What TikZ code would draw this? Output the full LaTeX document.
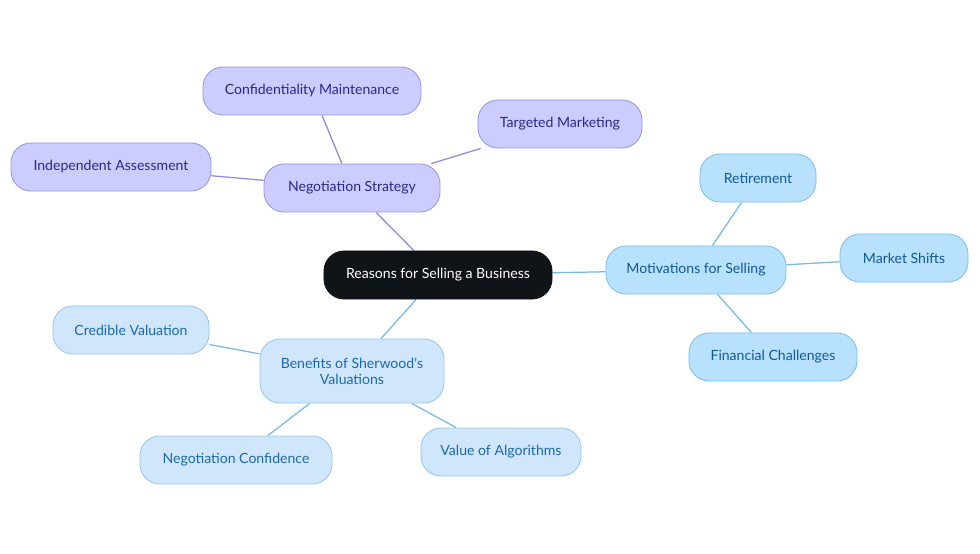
\documentclass[tikz,border=0pt]{standalone}
\usepackage{fontspec}
\setmainfont{Lato}
\usepackage{tikz}
\usetikzlibrary{positioning,backgrounds}
\definecolor{centerfill}{RGB}{15,20,25}
\definecolor{negfill}{RGB}{204,204,255}
\definecolor{negdraw}{RGB}{150,150,230}
\definecolor{negtext}{RGB}{40,40,140}
\definecolor{negline}{RGB}{140,140,220}
\definecolor{motfill}{RGB}{184,224,255}
\definecolor{motdraw}{RGB}{125,190,235}
\definecolor{mottext}{RGB}{15,90,150}
\definecolor{motline}{RGB}{120,185,230}
\definecolor{benfill}{RGB}{208,230,252}
\definecolor{bendraw}{RGB}{150,198,238}
\definecolor{bentext}{RGB}{25,105,175}

\begin{document}
\begin{tikzpicture}[
    x=0.025cm, y=-0.025cm,
    box/.style={draw, line width=0.6pt, rounded corners=0.5cm, minimum height=1.2cm, align=center, font=\fontsize{10}{11.5}\selectfont},
    rootbox/.style={box, fill=centerfill, draw=centerfill, text=white},
    negbox/.style={box, fill=negfill, draw=negdraw, text=negtext},
    motbox/.style={box, fill=motfill, draw=motdraw, text=mottext},
    benbox/.style={box, fill=benfill, draw=bendraw, text=bentext},
    negedge/.style={draw=negline, line width=0.9pt},
    motedge/.style={draw=motline, line width=0.9pt}
]
\useasboundingbox (0,0) rectangle (980,553);

% Root
\node[rootbox, minimum width=5.7cm] (root) at (438,275) {Reasons for Selling a Business};

% Negotiation branch
\node[negbox, minimum width=4.4cm] (neg) at (352,188) {Negotiation Strategy};
\node[negbox, minimum width=5.45cm] (conf) at (312,91) {Confidentiality Maintenance};
\node[negbox, minimum width=4.1cm] (mark) at (560,124) {Targeted Marketing};
\node[negbox, minimum width=5cm] (indep) at (111,167) {Independent Assessment};

% Motivations branch
\node[motbox, minimum width=4.5cm] (mot) at (696,270) {Motivations for Selling};
\node[motbox, minimum width=2.9cm] (ret) at (758,178) {Retirement};
\node[motbox, minimum width=3.2cm] (shift) at (904,258) {Market Shifts};
\node[motbox, minimum width=4.2cm] (fin) at (773,357) {Financial Challenges};

% Benefits branch
\node[benbox, minimum width=4.6cm, minimum height=1.6cm] (ben) at (352,371) {Benefits of Sherwood\textquotesingle s\\Valuations};
\node[benbox, minimum width=3.9cm] (cred) at (131,330) {Credible Valuation};
\node[benbox, minimum width=4.8cm] (conf2) at (236,460) {Negotiation Confidence};
\node[benbox, minimum width=4cm] (algo) at (501,452) {Value of Algorithms};

% Connectors
\begin{scope}[on background layer]
\draw[negedge] (root) -- (neg);
\draw[negedge] (neg) -- (conf);
\draw[negedge] (neg) -- (mark);
\draw[negedge] (neg) -- (indep);
\draw[motedge] (root) -- (mot);
\draw[motedge] (mot) -- (ret);
\draw[motedge] (mot) -- (shift);
\draw[motedge] (mot) -- (fin);
\draw[motedge] (root) -- (ben);
\draw[motedge] (ben) -- (cred);
\draw[motedge] (ben) -- (conf2);
\draw[motedge] (ben) -- (algo);
\end{scope}

\end{tikzpicture}
\end{document}
